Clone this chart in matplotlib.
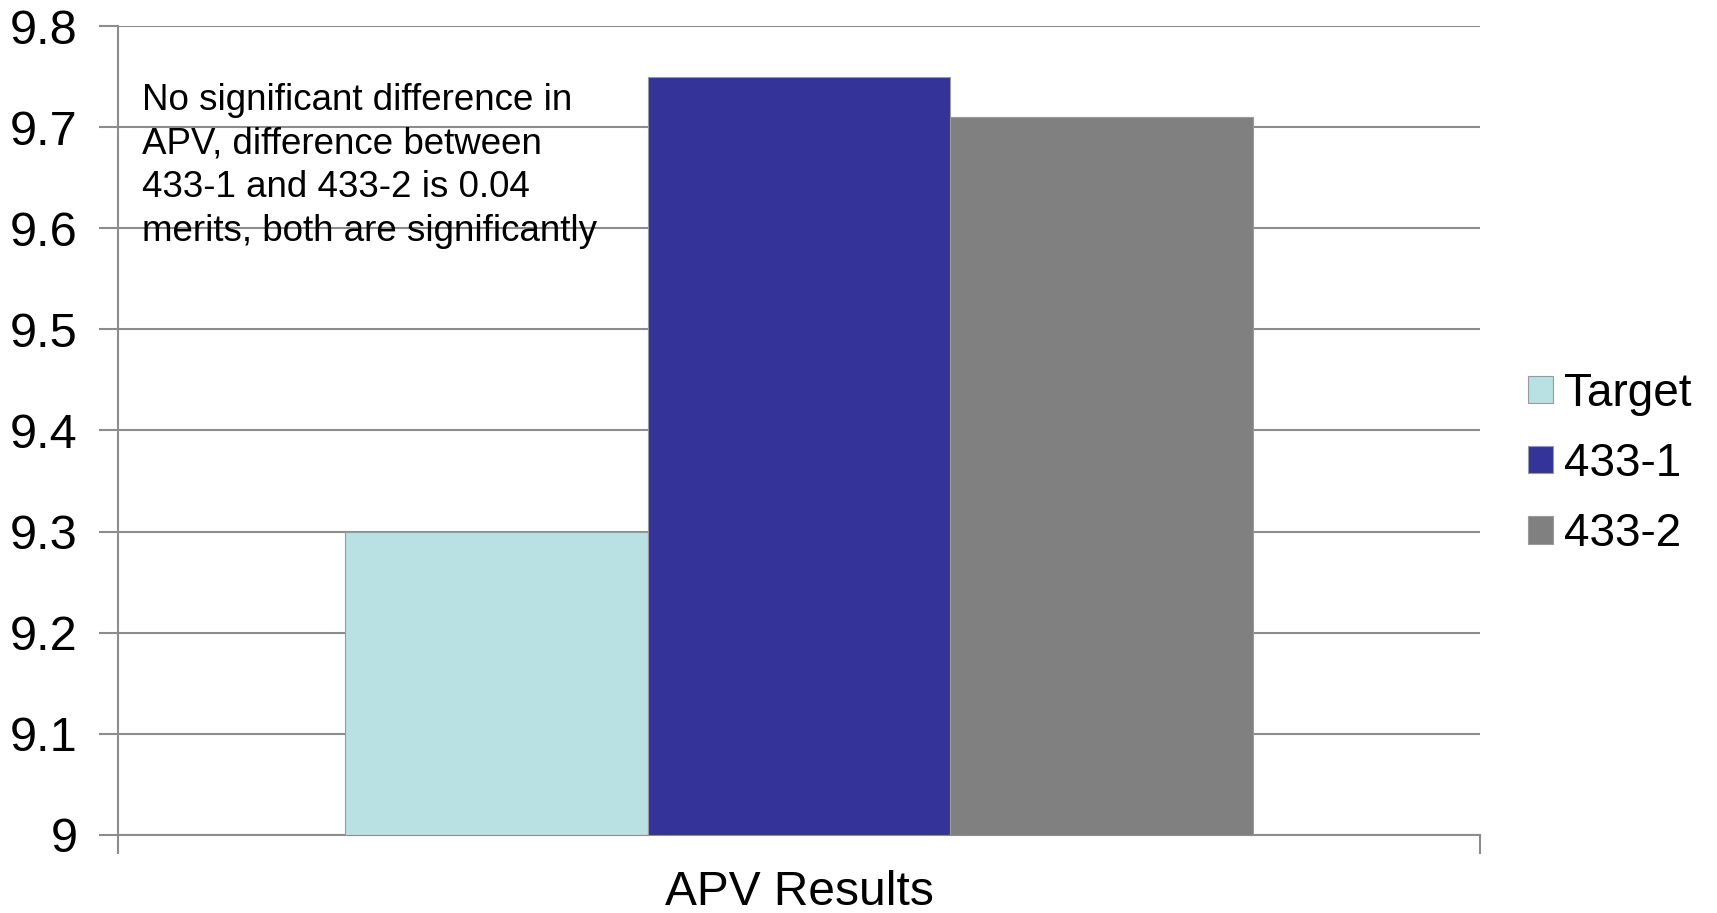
import matplotlib
matplotlib.use("Agg")
import matplotlib.pyplot as plt
import numpy as np

# data
category = "APV Results"
series = ["Target", "433-1", "433-2"]
values = [9.3, 9.75, 9.71]
colors = ["#B9E0E3", "#333399", "#808080"]
yticks = [9.0, 9.1, 9.2, 9.3, 9.4, 9.5, 9.6, 9.7, 9.8]
ytick_labels = ["9", "9.1", "9.2", "9.3", "9.4", "9.5", "9.6", "9.7", "9.8"]
note = ("No significant difference in\n"
        "APV, difference between\n"
        "433-1 and 433-2 is 0.04\n"
        "merits, both are significantly")

plt.rcParams["font.family"] = ["Liberation Sans", "DejaVu Sans"]
grid_col = "#8c8c8c"

fig = plt.figure(figsize=(17.17, 9.13), dpi=100)
ax = fig.add_axes([0.0687, 0.0855, 0.862 - 0.0687, 0.9715 - 0.0855])

# bars: group spans 2/3 of the category width
bar_w = 2.0 / 3.0 / len(series)
offsets = (np.arange(len(series)) - (len(series) - 1) / 2.0) * bar_w
for off, val, col, name in zip(offsets, values, colors, series):
    ax.bar(off, val - 9.0, bottom=9.0, width=bar_w, color=col,
           edgecolor="#9a9a9a", linewidth=0.8, label=name, zorder=3)

ax.set_xlim(-0.5, 0.5)
ax.set_ylim(9.0, 9.8)
ax.set_yticks(yticks)
ax.set_yticklabels(ytick_labels, fontsize=35)
ax.yaxis.grid(True, color=grid_col, linewidth=1.5, zorder=0)
ax.set_axisbelow(True)

ax.set_xticks([0])
ax.set_xticklabels([category], fontsize=34.5)
ax.set_xticks([-0.5, 0.5], minor=True)
ax.tick_params(axis="x", which="major", length=0, pad=25)
ax.tick_params(axis="x", which="minor", length=14, width=1.5, color=grid_col)
ax.tick_params(axis="y", length=14, width=1.5, color=grid_col, pad=15)

for side in ["top", "right"]:
    ax.spines[side].set_visible(False)
for side in ["left", "bottom"]:
    ax.spines[side].set_color(grid_col)
    ax.spines[side].set_linewidth(1.5)

ax.text(0.0176, 0.93, note, transform=ax.transAxes, fontsize=26.5,
        va="top", ha="left", linespacing=1.33, zorder=5)

leg = ax.legend(loc="center left", bbox_to_anchor=(0.879, 0.492),
                bbox_transform=fig.transFigure, frameon=False, fontsize=33,
                handlelength=0.55, handleheight=0.55, handletextpad=0.25,
                labelspacing=0.57, borderaxespad=0)

fig.savefig("out.png", dpi=100)
